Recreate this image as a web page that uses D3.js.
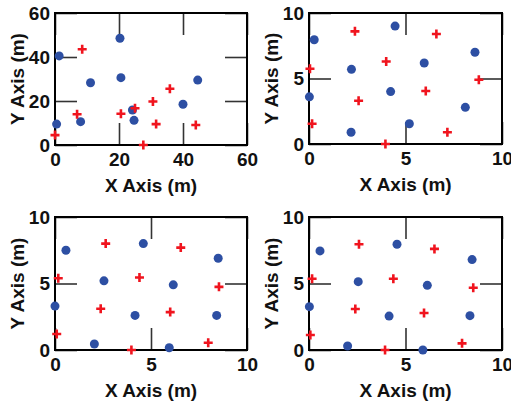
<!DOCTYPE html>
<html>
<head>
<meta charset="utf-8">
<script src="https://cdn.jsdelivr.net/npm/d3@7"></script>
<style>
  html, body { margin: 0; padding: 0; background: #fff; }
  svg { display: block; }
  text { font-family: "Liberation Sans", Arial, Helvetica, sans-serif; font-weight: bold; fill: #111; }
</style>
</head>
<body>
<svg id="chart" width="511" height="402"></svg>
<script>
// Axis limits and tick values
const domainA = [0, 60];
const ticksA = [0, 20, 40, 60];
const domainB = [0, 10];
const ticksB = [0, 5, 10];
const xTitle = "X Axis (m)";
const yTitle = "Y Axis (m)";

// Panel 1 (0–60 m)
const blue1 = [[0.5, 9.5], [1.3, 40.5], [8, 10.6], [11.1, 28.3], [20.3, 48.5],
               [20.6, 30.6], [24.2, 15.9], [24.7, 11.2], [40, 18.5], [44.6, 29.5]];
const red1  = [[0, 4.5], [6.9, 14], [8.5, 43.5], [20.6, 14.2], [25, 16.7],
               [27.6, 0], [30.6, 19.8], [31.6, 9.5], [35.9, 25.6], [44, 9.1]];

// Panel 2 (0–10 m)
const blue2 = [[0.27, 7.96], [0.02, 3.6], [2.2, 5.7], [2.18, 0.9], [4.46, 9.0],
               [4.23, 4.0], [5.2, 1.55], [5.97, 6.18], [8.1, 2.8], [8.6, 7.0]];
const red2  = [[0.05, 5.75], [0.16, 1.55], [2.38, 8.6], [2.57, 3.3], [4.0, 6.3],
               [3.96, 0], [6.6, 8.4], [6.05, 4.05], [7.17, 0.9], [8.8, 4.9]];

// Panel 3 (0–10 m)
const blue3 = [[0.57, 7.5], [0, 3.3], [2.55, 5.2], [2.05, 0.45], [4.6, 8.0],
               [4.17, 2.6], [6.16, 4.9], [5.95, 0.17], [8.5, 6.9], [8.42, 2.6]];
const red3  = [[0.17, 5.4], [0.09, 1.2], [2.64, 8.0], [2.38, 3.1], [4.4, 5.45],
               [3.98, 0], [6.55, 7.7], [6.0, 2.85], [7.98, 0.55], [8.54, 4.75]];

// Panel 4 (0–10 m)
const blue4 = [[0.57, 7.45], [0.02, 3.26], [2.55, 5.14], [2.0, 0.3], [4.56, 7.95],
               [4.15, 2.55], [6.13, 4.86], [5.9, 0], [8.45, 6.8], [8.34, 2.58]];
const red4  = [[0.16, 5.36], [0.07, 1.13], [2.59, 7.95], [2.4, 3.08], [4.37, 5.36],
               [3.94, 0], [6.5, 7.6], [5.96, 2.78], [7.93, 0.5], [8.51, 4.68]];

// Plot-box placement of each subplot
const panels = [
  { left: 55,  top: 13,  width: 192, height: 132, domain: domainA, ticks: ticksA, blue: blue1, red: red1 },
  { left: 309, top: 13,  width: 193, height: 131, domain: domainB, ticks: ticksB, blue: blue2, red: red2 },
  { left: 55,  top: 217, width: 192, height: 133, domain: domainB, ticks: ticksB, blue: blue3, red: red3 },
  { left: 309, top: 217, width: 193, height: 133, domain: domainB, ticks: ticksB, blue: blue4, red: red4 }
];

const BLUE = "#2d4fa3";
const RED = "#f0141e";
const TICK_LEN = 22;
const FONT = 19;

const svg = d3.select("#chart");

panels.forEach(p => {
  const g = svg.append("g").attr("transform", `translate(${p.left},${p.top})`);
  const x = d3.scaleLinear().domain(p.domain).range([0, p.width]);
  const y = d3.scaleLinear().domain(p.domain).range([p.height, 0]);
  const fmt = d3.format("d");

  const styleAxis = (sel, labels) => {
    sel.select(".domain").remove();
    sel.selectAll(".tick line").attr("stroke", "#333").attr("stroke-width", 1.6);
    sel.selectAll(".tick text")
      .style("font-size", FONT + "px")
      .style("font-weight", "bold")
      .attr("fill", "#111");
    if (!labels) sel.selectAll(".tick text").remove();
  };

  // Inward ticks on all four sides
  g.append("g").attr("transform", `translate(0,${p.height})`)
    .call(d3.axisBottom(x).tickValues(p.ticks).tickFormat(fmt).tickSize(-TICK_LEN).tickPadding(8))
    .call(s => styleAxis(s, true));
  g.append("g")
    .call(d3.axisLeft(y).tickValues(p.ticks).tickFormat(fmt).tickSize(-TICK_LEN).tickPadding(5))
    .call(s => styleAxis(s, true));
  g.append("g")
    .call(d3.axisTop(x).tickValues(p.ticks).tickSize(-TICK_LEN))
    .call(s => styleAxis(s, false));
  g.append("g").attr("transform", `translate(${p.width},0)`)
    .call(d3.axisRight(y).tickValues(p.ticks).tickSize(-TICK_LEN))
    .call(s => styleAxis(s, false));

  // Plot box
  g.append("rect")
    .attr("x", 0).attr("y", 0)
    .attr("width", p.width).attr("height", p.height)
    .attr("fill", "none").attr("stroke", "#000").attr("stroke-width", 2);

  // Axis titles
  g.append("text")
    .attr("x", p.width / 2).attr("y", p.height + 47)
    .attr("text-anchor", "middle")
    .style("font-size", FONT + "px")
    .text(xTitle);
  g.append("text")
    .attr("transform", `translate(-31,${p.height / 2}) rotate(-90)`)
    .attr("text-anchor", "middle")
    .style("font-size", FONT + "px")
    .text(yTitle);

  // Markers: filled circles and plus signs
  g.append("g").selectAll("circle").data(p.blue).join("circle")
    .attr("cx", d => x(d[0])).attr("cy", d => y(d[1]))
    .attr("r", 4.5).attr("fill", BLUE);
  g.append("g").selectAll("path").data(p.red).join("path")
    .attr("d", d => `M${x(d[0]) - 4.5},${y(d[1])}h9M${x(d[0])},${y(d[1]) - 4.5}v9`)
    .attr("stroke", RED).attr("stroke-width", 2.6).attr("fill", "none");
});
</script>
</body>
</html>
